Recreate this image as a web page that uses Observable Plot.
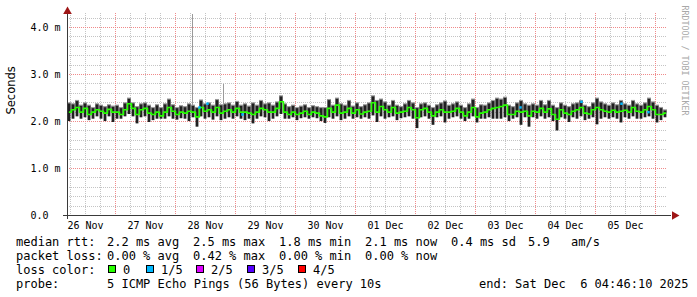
<!DOCTYPE html>
<html><head><meta charset="utf-8">
<script src="https://cdn.jsdelivr.net/npm/d3@7"></script>
<script src="https://cdn.jsdelivr.net/npm/@observablehq/plot@0.6"></script>
<style>
body{margin:0;background:#fff;}
#wrap{position:relative;width:697px;height:297px;overflow:hidden;background:#fff;}
#chart{position:absolute;left:0;top:0;}
.leg{position:absolute;font-family:"DejaVu Sans Mono",monospace;font-size:12px;line-height:14px;white-space:pre;color:#000;}
.sq{position:absolute;width:6px;height:6px;border:1px solid #000;}
</style></head><body>
<div id="wrap"><div id="chart"></div><div id="legend"></div></div>
<script>
// ---- time range ----
const startTime = new Date(Date.UTC(2025, 10, 26, 4, 46, 10));
const endTime = new Date(Date.UTC(2025, 11, 6, 4, 46, 10));

// ---- median rtt per bin (ms), 150 bins over 10 days ----
const medianMs = [
 2.2,2.25,2.3,2.2,2.28,2.15,2.2,2.25,2.22,2.18,
 2.26,2.2,2.2,2.15,2.25,2.38,2.28,2.15,2.25,2.28,
 2.18,2.15,2.2,2.12,2.2,2.3,2.22,2.15,2.2,2.18,
 2.22,2.2,2.1,2.3,2.22,2.25,2.2,2.3,2.18,2.22,
 2.25,2.2,2.28,2.2,2.2,2.18,2.15,2.2,2.28,2.25,
 2.2,2.2,2.28,2.42,2.2,2.15,2.2,2.15,2.18,2.22,
 2.15,2.2,2.18,2.12,2.1,2.28,2.2,2.35,2.18,2.2,
 2.28,2.18,2.25,2.16,2.2,2.22,2.4,2.2,2.32,2.25,
 2.2,2.3,2.18,2.2,2.22,2.3,2.25,2.08,2.25,2.28,
 2.2,2.12,2.2,2.25,2.2,2.2,2.22,2.28,2.2,2.12,
 2.2,2.3,2.1,2.18,2.2,2.25,2.28,2.3,2.32,2.35,
 2.15,2.15,2.22,2.2,2.22,2.12,2.22,2.2,2.28,2.2,
 2.27,2.15,2.05,2.25,2.18,2.15,2.22,2.25,2.3,2.18,
 2.16,2.25,2.3,2.25,2.22,2.2,2.24,2.2,2.22,2.24,
 2.2,2.3,2.22,2.2,2.25,2.32,2.25,2.15,2.15,2.18
];
// ---- smoke low edge per bin (ms) ----
const lowMs = [
 2.0,2.05,2.1,2.05,2.08,2.02,2.05,2.1,2.05,2.0,
 2.1,1.98,2.05,2.05,2.1,2.15,2.1,1.95,2.08,2.1,
 1.98,2.02,2.05,2.05,2.05,2.1,2.05,2.03,2.06,2.05,
 2.0,2.08,1.88,2.1,2.05,2.08,2.03,2.1,2.02,2.05,
 2.08,2.05,2.1,2.05,2.02,2.05,1.95,2.05,2.1,2.08,
 2.0,2.05,2.1,2.15,2.05,2.05,2.08,2.02,2.06,2.08,
 2.05,2.08,2.06,2.0,1.96,2.08,2.05,2.1,2.02,2.05,
 2.1,2.05,2.08,2.05,2.08,2.05,2.12,1.98,2.1,2.05,
 2.08,2.1,2.02,2.06,2.08,2.1,2.05,1.85,2.08,2.1,
 2.05,1.92,2.08,2.1,1.97,2.05,2.08,2.1,2.05,2.0,
 2.05,2.1,1.97,2.05,2.05,2.08,2.05,2.05,2.05,2.08,
 2.0,2.05,2.08,1.92,2.08,1.88,2.08,2.05,2.1,2.05,
 2.08,2.0,1.8,2.08,2.05,1.98,2.08,2.05,2.1,2.02,
 2.05,2.08,1.93,2.05,2.08,2.05,2.08,2.05,1.97,2.08,
 2.05,2.1,2.05,2.05,2.08,2.1,2.05,1.97,2.02,2.08
];
// ---- smoke high edge per bin (ms) ----
const highMs = [
 2.4,2.38,2.45,2.35,2.4,2.35,2.3,2.38,2.35,2.32,
 2.36,2.33,2.35,2.3,2.4,2.5,2.4,2.32,2.38,2.4,
 2.35,2.3,2.36,2.3,2.38,2.48,2.36,2.3,2.34,2.32,
 2.38,2.35,2.3,2.46,2.38,2.4,2.35,2.47,2.36,2.38,
 2.4,2.35,2.43,2.35,2.38,2.33,2.4,2.35,2.45,2.38,
 2.4,2.35,2.42,2.55,2.38,2.32,2.35,2.3,2.33,2.36,
 2.3,2.34,2.32,2.3,2.3,2.47,2.35,2.5,2.38,2.35,
 2.45,2.33,2.4,2.32,2.36,2.4,2.55,2.45,2.48,2.42,
 2.35,2.45,2.35,2.32,2.38,2.45,2.4,2.3,2.38,2.4,
 2.35,2.3,2.36,2.4,2.44,2.35,2.38,2.42,2.35,2.3,
 2.38,2.48,2.3,2.36,2.35,2.4,2.45,2.5,2.48,2.52,
 2.35,2.32,2.4,2.45,2.38,2.35,2.38,2.35,2.45,2.36,
 2.45,2.35,2.3,2.4,2.35,2.32,2.38,2.4,2.45,2.35,
 2.32,2.4,2.5,2.42,2.38,2.35,2.4,2.36,2.45,2.38,
 2.35,2.45,2.38,2.35,2.4,2.5,2.42,2.35,2.3,2.25
];

// ---- isolated single-ping spikes ----
const spikeTimes = ["2025-11-28T06:46:00Z", "2025-11-28T19:10:00Z"];
const spikeBaseMs = [2.35, 2.35];
const spikeTopMs = [4.28, 2.78];

// ---- median points with 1/5 loss ----
const lossTimes = ["2025-11-28T09:34:00Z","2025-11-28T12:46:00Z","2025-11-29T02:46:00Z","2025-12-03T17:58:00Z","2025-12-04T18:22:00Z","2025-12-05T10:22:00Z","2025-12-05T21:10:00Z"];
const lossMs = [2.3, 2.38, 2.15, 2.3, 2.42, 2.38, 2.2];

// ---- axis labels ----
const dayLabels = ["26 Nov","27 Nov","28 Nov","29 Nov","30 Nov","01 Dec","02 Dec","03 Dec","04 Dec","05 Dec"];
const yTickValues = [0, 1, 2, 3, 4];
const yTickLabels = ["0.0", "1.0 m", "2.0 m", "3.0 m", "4.0 m"];
const yAxisTitle = "Seconds";
const watermark = "RRDTOOL / TOBI OETIKER";

// ---- legend ----
const rttLabel = "median rtt:";
const rttStats = ["2.2 ms avg", "2.5 ms max", "1.8 ms min", "2.1 ms now", "0.4 ms sd", "5.9", "am/s"];
const lossLabel = "packet loss:";
const lossStats = ["0.00 % avg", "0.42 % max", "0.00 % min", "0.00 % now"];
const colorLabel = "loss color:";
const lossColorNames = ["0", "1/5", "2/5", "3/5", "4/5"];
const lossColorValues = ["#26ff00", "#00b8ff", "#dd00ff", "#5500ff", "#ff0000"];
const probeLabel = "probe:";
const probeText = "5 ICMP Echo Pings (56 Bytes) every 10s";
const endText = "end: Sat Dec  6 04:46:10 2025";

// ---- derived tables ----
const nBins = medianMs.length;
const binMs = (endTime - startTime) / nBins;
const bins = medianMs.map((m, i) => ({
  t0: new Date(+startTime + i * binMs),
  t1: new Date(+startTime + (i + 1) * binMs),
  tc: new Date(+startTime + (i + 0.5) * binMs),
  med: m, lo: lowMs[i], hi: highMs[i]
}));
const spikes = spikeTimes.map((t, i) => ({t: new Date(t), y1: spikeBaseMs[i], y2: spikeTopMs[i]}));
const losses = lossTimes.map((t, i) => ({t: new Date(t), y: lossMs[i]}));
const dayNoons = dayLabels.map((d, i) => ({t: d3.utcHour.offset(d3.utcDay.ceil(startTime), (i - 1) * 24 + 12), label: d}));
const yMinor = d3.range(0.2, 4.25, 0.2).filter(v => Math.abs(v - Math.round(v)) > 1e-6);
const yMajor = [1, 2, 3, 4];
const xMinor = d3.utcHour.every(6).range(startTime, endTime).filter(d => d.getUTCHours() !== 0);
const xMajor = d3.utcDay.range(startTime, endTime);

const yMax = 4.3;
const pxPerMs = 202 / yMax;
const pxPerMsTime = (endTime - startTime) / 600;

const minorStyle = {stroke: "#c4c4c4", strokeDasharray: "1,1", shapeRendering: "crispEdges"};
const majorStyle = {stroke: "#f08a8a", strokeDasharray: "1,1", shapeRendering: "crispEdges"};
const axisColor = "#3a3a3a";
const arrowColor = "#9e1616";

const chart = Plot.plot({
  width: 697, height: 232,
  marginLeft: 67, marginRight: 30, marginTop: 13, marginBottom: 17,
  x: {type: "utc", domain: [startTime, endTime], axis: null},
  y: {domain: [0, yMax], axis: null},
  style: {background: "transparent", overflow: "visible", fontFamily: "'DejaVu Sans Mono', monospace"},
  marks: [
    Plot.ruleY(yMinor, minorStyle),
    Plot.ruleX(xMinor, minorStyle),
    Plot.ruleY(yMajor, majorStyle),
    Plot.ruleX(xMajor, majorStyle),
    // light outer smoke
    Plot.rect(bins, {x1: "t0", x2: "t1", y1: "med", y2: "hi", fill: "#9a9a9a", insetBottom: 0}),
    // dark inner smoke as thin bars
    Plot.rect(bins, {x1: "t0", x2: "t1", y1: "lo", y2: "hi", fill: "#202020", insetLeft: 0.6, insetRight: 0.6, insetTop: 1.2}),
    Plot.ruleX(spikes, {x: "t", y1: "y1", y2: "y2", stroke: "#9a9a9a", shapeRendering: "crispEdges"}),
    Plot.line(bins, {x: "tc", y: "med", stroke: "#26ff00", strokeWidth: 1.6, curve: "step"}),
    Plot.dot(losses, {x: "t", y: "y", symbol: "square", r: 1.4, fill: "#00b8ff"}),
    // axes
    Plot.ruleY([0], {x1: new Date(+startTime - 4 * pxPerMsTime), x2: new Date(+endTime + 4 * pxPerMsTime), stroke: axisColor, shapeRendering: "crispEdges"}),
    Plot.ruleX([startTime], {y1: -4 / pxPerMs, y2: yMax, stroke: axisColor, shapeRendering: "crispEdges"}),
    Plot.dot([endTime], {x: d => d, y: 0, symbol: "triangle", r: 3.2, fill: arrowColor, rotate: 90, dx: 7}),
    Plot.dot([startTime], {x: d => d, y: yMax, symbol: "triangle", r: 3.2, fill: arrowColor, dy: -2}),
    // tick labels
    Plot.text(dayNoons, {x: "t", y: 0, text: "label", dy: 10, fontSize: 10, fill: "#000"}),
    Plot.text(yTickValues, {x: startTime, y: d => d, text: (d, i) => yTickLabels[i], textAnchor: "start", dx: -37, fontSize: 10, fill: "#000"}),
    Plot.text([yAxisTitle], {frameAnchor: "left", rotate: -90, dx: -56, fontSize: 11.5, fontFamily: "'DejaVu Sans', sans-serif", fill: "#000"}),
    Plot.text([watermark], {frameAnchor: "top-right", rotate: 90, textAnchor: "start", dx: 20, dy: -8, fontSize: 8.3, fill: "#a8a8a8"})
  ]
});
document.getElementById("chart").appendChild(chart);

// ---- legend (below the SVG) ----
const legend = document.getElementById("legend");
function put(x, y, txt) {
  const d = document.createElement("div");
  d.className = "leg"; d.style.left = x + "px"; d.style.top = y + "px"; d.textContent = txt;
  legend.appendChild(d);
}
const cols = [107, 193, 279, 365, 451, 528, 571];
const rows = [235, 249, 263, 277];
put(16, rows[0], rttLabel);
rttStats.forEach((s, i) => put(cols[i], rows[0], s));
put(16, rows[1], lossLabel);
lossStats.forEach((s, i) => put(cols[i], rows[1], s));
put(16, rows[2], colorLabel);
const sqX = [108, 146, 196, 247, 298];
lossColorNames.forEach((n, i) => {
  const s = document.createElement("div");
  s.className = "sq"; s.style.left = sqX[i] + "px"; s.style.top = (rows[2] + 2) + "px"; s.style.background = lossColorValues[i];
  legend.appendChild(s);
  put(sqX[i] + 15, rows[2], n);
});
put(16, rows[3], probeLabel);
put(107, rows[3], probeText);
put(479, rows[3], endText);
</script>
</body></html>
